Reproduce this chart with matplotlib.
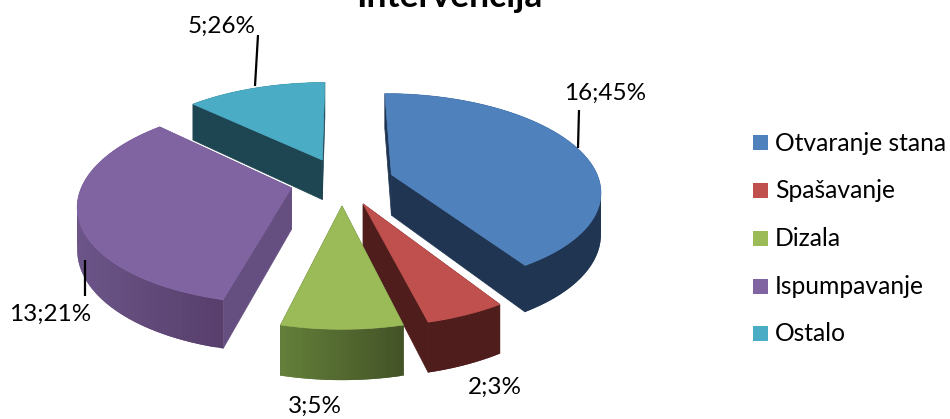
import numpy as np
import matplotlib
matplotlib.use('Agg')
import matplotlib.pyplot as plt
from matplotlib.colors import to_rgb

title = 'Intervencija'
categories = ['Otvaranje stana', 'Spašavanje', 'Dizala', 'Ispumpavanje', 'Ostalo']
values = [16, 2, 3, 13, 5]
percents = [45, 3, 5, 21, 26]

top_colors = ['#4F81BD', '#C0504D', '#9BBB59', '#8064A2', '#4BACC6']
wall_left = ['#1F3552', '#4F1E1C', '#64803A', '#6C5589', '#1E4652']
wall_right = ['#1F3552', '#4F1E1C', '#435326', '#583F6C', '#1E4652']
cut_colors = ['#1F3552', '#4F1E1C', '#435326', '#654F80', '#1E4652']

plt.rcParams['font.family'] = ['Lato', 'DejaVu Sans']

fig = plt.figure(figsize=(9.5, 4.19), dpi=100)
ax = fig.add_axes([0, 0, 1, 1])
ax.set_xlim(0, 950)
ax.set_ylim(419, 0)
ax.axis('off')

# view of the tilted disc
cx, cy = 342, 181.2
rx, ry = 208, 95.5
persp = 0.155
depth = 41
explode = 0.25


def project(X, Y):
	s = 1 / (1 + persp * Y)
	return cx + rx * X * s, cy - ry * Y * s, depth * s


def mix(c1, c2, t):
	c1, c2 = np.array(to_rgb(c1)), np.array(to_rgb(c2))
	return tuple(c1 + (c2 - c1) * t)


edges = np.radians(np.cumsum([0] + values) / sum(values) * 360)

# back slices first so the front ones cover them
for i in [4, 0, 3, 1, 2]:
	a0, a1 = edges[i], edges[i + 1]
	mid = (a0 + a1) / 2
	ex, ey = explode * np.sin(mid), explode * np.cos(mid)
	th = np.linspace(a0, a1, 60)
	x, y, d = project(ex + np.sin(th), ey + np.cos(th))
	ox, oy, od = project(ex, ey)

	# cut faces
	ax.fill([ox, x[0], x[0], ox], [oy, y[0], y[0] + d[0], oy + od], color=cut_colors[i], lw=0.5)
	ax.fill([ox, x[-1], x[-1], ox], [oy, y[-1], y[-1] + d[-1], oy + od], color=cut_colors[i], lw=0.5)

	# outer wall as thin strips for the shading, each one overlaps the next
	lo, hi = x.min(), x.max()
	for k in range(len(th) - 1):
		t = (x[k] - lo) / max(hi - lo, 1)
		col = mix(wall_left[i], wall_right[i], t)
		j = min(k + 2, len(th) - 1)
		ax.fill([x[k], x[j], x[j], x[k]],
			[y[k], y[j], y[j] + d[j], y[k] + d[k]],
			color=col, lw=0)

	# top
	ax.fill(np.r_[ox, x], np.r_[oy, y], color=top_colors[i], lw=0.5)

# data labels and leader lines
label_pos = [(605, 93), (495, 387), (315, 406), (50, 314), (222, 26)]
leaders = [((579, 110), (578, 148)), None, None, ((85, 260), (85, 296)), ((258, 35), (255, 86))]
for i in range(len(values)):
	ax.text(label_pos[i][0], label_pos[i][1], '%d;%d%%' % (values[i], percents[i]),
		fontsize=17.5, color='black', ha='center', va='center')
	if leaders[i]:
		p, q = leaders[i]
		ax.plot([p[0], q[0]], [p[1], q[1]], color='black', lw=1.6, solid_capstyle='butt')

ax.text(449, -3, title, fontsize=25.5, fontweight='bold', ha='center', va='center')

# legend
for i in range(len(categories)):
	yc = 143 + i * 47.7
	ax.fill([753, 768, 768, 753], [yc - 7.5, yc - 7.5, yc + 7.5, yc + 7.5], color=top_colors[i], lw=0)
	ax.text(775, yc, categories[i], fontsize=17.7, color='black', ha='left', va='center')

fig.savefig('out.png', dpi=100)
